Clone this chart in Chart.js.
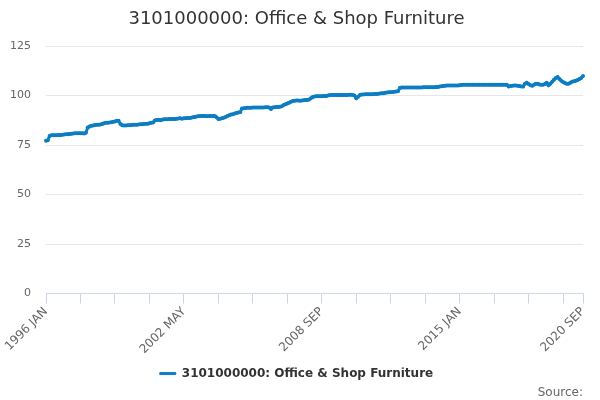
<!DOCTYPE html>
<html>
<head>
<meta charset="utf-8">
<script src="https://cdn.jsdelivr.net/npm/chart.js@4/dist/chart.umd.min.js"></script>
<style>
  html, body { margin: 0; padding: 0; background: #fff; }
  #wrap { width: 600px; height: 400px; }
</style>
</head>
<body>
<div id="wrap"><canvas id="myChart" width="600" height="400"></canvas></div>
<script>
// Index values, one array per year
var v1996 = [77.2, 77.4, 79.6, 80.0, 80.0, 80.0, 80.0, 80.1, 80.1, 80.2, 80.3, 80.4];
var v1997 = [80.5, 80.6, 80.7, 80.8, 80.9, 81.0, 81.0, 81.0, 80.9, 80.8, 81.2, 83.8];
var v1998 = [84.4, 84.7, 84.9, 85.1, 85.2, 85.3, 85.4, 85.6, 86.0, 86.2, 86.3, 86.4];
var v1999 = [86.5, 86.7, 86.9, 87.2, 87.2, 85.6, 85.0, 84.9, 84.9, 85.0, 85.0, 85.1];
var v2000 = [85.2, 85.2, 85.3, 85.4, 85.5, 85.5, 85.6, 85.7, 85.8, 86.0, 86.2, 86.4];
var v2001 = [87.4, 87.6, 87.8, 87.5, 87.8, 88.0, 88.0, 88.0, 88.1, 88.2, 88.1, 88.2];
var v2002 = [88.3, 88.4, 88.5, 88.3, 88.5, 88.5, 88.6, 88.6, 88.8, 89.0, 89.2, 89.4];
var v2003 = [89.5, 89.6, 89.6, 89.7, 89.6, 89.5, 89.6, 89.7, 89.7, 89.6, 89.0, 88.2];
var v2004 = [88.3, 88.5, 88.8, 89.2, 89.6, 90.0, 90.4, 90.6, 90.9, 91.2, 91.4, 91.6];
var v2005 = [93.4, 93.6, 93.7, 93.8, 93.8, 93.8, 93.9, 93.9, 93.9, 94.0, 94.0, 94.0];
var v2006 = [94.0, 94.1, 94.1, 94.0, 93.2, 94.0, 94.1, 94.2, 94.2, 94.3, 94.6, 95.2];
var v2007 = [95.6, 96.0, 96.4, 96.8, 97.2, 97.4, 97.5, 97.5, 97.4, 97.5, 97.6, 97.7];
var v2008 = [97.8, 98.0, 98.6, 99.2, 99.5, 99.6, 99.6, 99.6, 99.6, 99.7, 99.8, 99.9];
var v2009 = [100.1, 100.2, 100.3, 100.3, 100.2, 100.2, 100.2, 100.3, 100.3, 100.3, 100.3, 100.4];
var v2010 = [100.4, 100.3, 100.0, 98.6, 99.4, 100.2, 100.5, 100.5, 100.6, 100.6, 100.6, 100.7];
var v2011 = [100.7, 100.8, 100.8, 100.9, 101.0, 101.1, 101.2, 101.4, 101.5, 101.6, 101.7, 101.8];
var v2012 = [101.9, 102.0, 102.1, 103.8, 104.0, 104.1, 104.1, 104.1, 104.1, 104.1, 104.1, 104.1];
var v2013 = [104.1, 104.1, 104.1, 104.1, 104.2, 104.2, 104.2, 104.2, 104.2, 104.2, 104.2, 104.3];
var v2014 = [104.3, 104.5, 104.7, 104.8, 104.9, 105.0, 105.0, 105.0, 105.0, 105.1, 105.1, 105.1];
var v2015 = [105.2, 105.3, 105.4, 105.5, 105.5, 105.5, 105.5, 105.5, 105.5, 105.5, 105.5, 105.5];
var v2016 = [105.5, 105.5, 105.5, 105.5, 105.5, 105.5, 105.5, 105.5, 105.5, 105.5, 105.5, 105.5];
var v2017 = [105.5, 105.5, 105.4, 104.5, 104.8, 104.9, 105.0, 105.0, 104.9, 104.8, 104.6, 104.5];
var v2018 = [106.0, 106.4, 105.8, 105.2, 104.9, 105.4, 106.0, 105.9, 105.6, 105.4, 105.5, 105.8];
var v2019 = [106.4, 105.2, 106.0, 107.0, 108.0, 108.8, 109.3, 108.4, 107.5, 106.8, 106.3, 106.0];
var v2020 = [106.0, 106.4, 107.0, 107.2, 107.4, 107.8, 108.3, 108.8, 109.8];

var years = [v1996, v1997, v1998, v1999, v2000, v2001, v2002, v2003, v2004, v2005, v2006, v2007, v2008,
             v2009, v2010, v2011, v2012, v2013, v2014, v2015, v2016, v2017, v2018, v2019, v2020];
var monthNames = ['JAN', 'FEB', 'MAR', 'APR', 'MAY', 'JUN', 'JUL', 'AUG', 'SEP', 'OCT', 'NOV', 'DEC'];
var shownLabels = ['1996 JAN', '2002 MAY', '2008 SEP', '2015 JAN', '2020 SEP'];
var yTicks = [0, 25, 50, 75, 100, 125];

var labels = [];
var values = [];
for (var y = 0; y < years.length; y++) {
    for (var m = 0; m < years[y].length; m++) {
        labels.push((1996 + y) + ' ' + monthNames[m]);
        values.push(years[y][m]);
    }
}

// tick marks every 19 months, plus the last month
var tickIdx = [];
for (var i = 0; i < labels.length; i += 19) tickIdx.push(i);
tickIdx.push(labels.length - 1);

var ctx = document.getElementById('myChart').getContext('2d');
var chart = new Chart(ctx, {
    type: 'line',
    data: {
        labels: labels,
        datasets: [{
            label: '3101000000: Office & Shop Furniture',
            data: values,
            fill: false,
            borderColor: '#0d7dc3',
            backgroundColor: '#0d7dc3',
            borderWidth: 3,
            pointRadius: 2,
            pointBorderWidth: 0,
            pointBackgroundColor: '#0d7dc3',
            tension: 0
        }]
    },
    options: {
        responsive: false,
        animation: false,
        layout: { padding: { left: 10, right: 17, top: 0, bottom: 0 } },
        plugins: {
            title: {
                display: true,
                text: '3101000000: Office & Shop Furniture',
                color: '#333333',
                font: { family: 'DejaVu Sans', size: 18, weight: 'normal' },
                padding: { top: 9, bottom: 15.4 }
            },
            subtitle: {
                display: true,
                text: 'Source:',
                position: 'bottom',
                align: 'end',
                color: '#666666',
                font: { family: 'DejaVu Sans', size: 12, weight: 'normal' },
                padding: { top: -4, bottom: 0 }
            },
            legend: {
                position: 'bottom',
                labels: {
                    color: '#333333',
                    font: { family: 'DejaVu Sans', size: 12, weight: 'bold' },
                    boxWidth: 16,
                    boxHeight: 2,
                    padding: 0,
                    generateLabels: function (c) {
                        var items = Chart.defaults.plugins.legend.labels.generateLabels(c);
                        items.forEach(function (it) { it.lineWidth = 1; });
                        return items;
                    }
                }
            },
            tooltip: { enabled: false }
        },
        scales: {
            x: {
                offset: false,
                afterBuildTicks: function (axis) {
                    axis.ticks = tickIdx.map(function (v) { return { value: v }; });
                },
                afterFit: function (axis) {
                    axis.paddingLeft = 0;
                    axis.paddingRight = 0;
                    axis.height = 74;
                },
                ticks: {
                    autoSkip: false,
                    maxRotation: 45,
                    minRotation: 45,
                    color: '#666666',
                    font: { family: 'DejaVu Sans', size: 12 },
                    padding: 1,
                    callback: function (value) {
                        var t = labels[value];
                        return shownLabels.indexOf(t) >= 0 ? t : '';
                    }
                },
                grid: {
                    drawOnChartArea: false,
                    color: '#ccd6eb',
                    tickLength: 10
                },
                border: { color: '#ccd6eb' }
            },
            y: {
                min: 0,
                max: 125,
                afterBuildTicks: function (axis) {
                    axis.ticks = yTicks.map(function (v) { return { value: v }; });
                },
                afterFit: function (axis) {
                    axis.width = 36;
                },
                ticks: {
                    color: '#666666',
                    font: { family: 'DejaVu Sans', size: 11 },
                    padding: 15
                },
                grid: {
                    color: '#e6e6e6',
                    drawTicks: false
                },
                border: { display: false }
            }
        }
    }
});
</script>
</body>
</html>
